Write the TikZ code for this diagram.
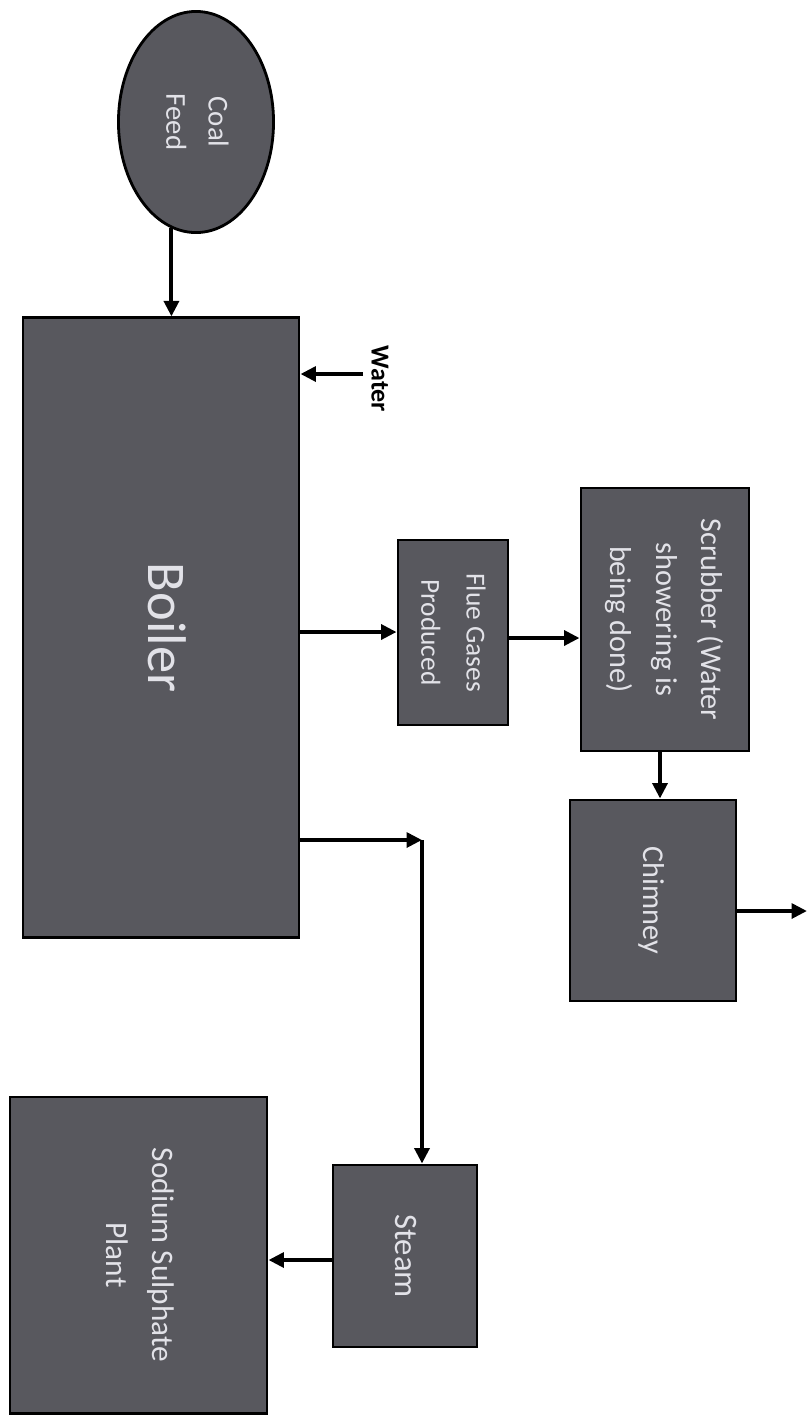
\documentclass[tikz,border=0pt]{standalone}
\usepackage{fontspec}
\setmainfont{Carlito}
\usetikzlibrary{shapes.geometric,arrows.meta}
\definecolor{boxgray}{RGB}{88,88,94}
\definecolor{txtgray}{RGB}{226,226,232}
\newcommand{\rlab}[1]{\rotatebox{-90}{\begin{tabular}{@{}c@{}}#1\end{tabular}}}
\newcommand{\fsz}[1]{\fontsize{#1}{12.8}\selectfont}
\tikzset{
  procbox/.style={draw=black, line width=0.8pt, fill=boxgray, text=txtgray, inner sep=0pt,
    font=\fsz{8.6}},
  arr/.style={line width=1.15pt, -{Triangle[length=4.4pt,width=4.2pt]}},
}
\begin{document}
\begin{tikzpicture}[x=0.01cm,y=-0.01cm]
\useasboundingbox (0,0) rectangle (809,1420);
\node[procbox, ellipse, minimum width=1.55cm, minimum height=2.21cm, font=\fontsize{8.2}{12}\selectfont] (coal) at (196,122) {\rlab{Coal\\Feed}};
\node[procbox, minimum width=2.76cm, minimum height=6.19cm, font=\fontsize{15.5}{18}\selectfont] (boiler) at (161,627.5) {\rlab{Boiler}};
\node[procbox, minimum width=1.10cm, minimum height=1.85cm, font=\fsz{7.8}] (flue) at (453,632.5) {\rlab{Flue Gases\\Produced}};
\node[procbox, minimum width=1.68cm, minimum height=2.63cm] (scrub) at (665,619.5) {\rlab{Scrubber (Water\\showering is\\being done)}};
\node[procbox, minimum width=1.66cm, minimum height=2.01cm] (chim) at (653,900.5) {\rlab{Chimney}};
\node[procbox, minimum width=1.44cm, minimum height=1.82cm, font=\fsz{9.3}] (steam) at (405,1256) {\rlab{Steam}};
\node[procbox, minimum width=2.57cm, minimum height=3.16cm, font=\fsz{8.9}] (sod) at (138.5,1255) {\rlab{Sodium Sulphate\\Plant}};
\node[font=\fontsize{7.4}{9}\selectfont\bfseries, inner sep=0pt] (water) at (380,379) {\rotatebox{-90}{Water}};
% connectors
\draw[arr] (coal.257) -- (coal.257 |- boiler.north);
\coordinate (wa) at (363,374);
\draw[arr] (wa) -- (wa -| boiler.east);
\coordinate (y1) at (0,632);
\draw[arr] (boiler.east |- y1) -- (flue.west |- y1);
\coordinate (y2) at (0,638);
\draw[arr] (flue.east |- y2) -- (scrub.west |- y2);
\coordinate (x3) at (660,0);
\draw[arr] (scrub.south -| x3) -- (chim.north -| x3);
\coordinate (out) at (807,911);
\draw[arr] (chim.east |- out) -- (out);
\coordinate (corner) at (422,840);
\draw[arr] (boiler.east |- corner) -- (corner);
\draw[arr] (corner) -- (corner |- steam.north);
\coordinate (y5) at (0,1260);
\draw[arr] (steam.west |- y5) -- (sod.east |- y5);
\end{tikzpicture}
\end{document}
